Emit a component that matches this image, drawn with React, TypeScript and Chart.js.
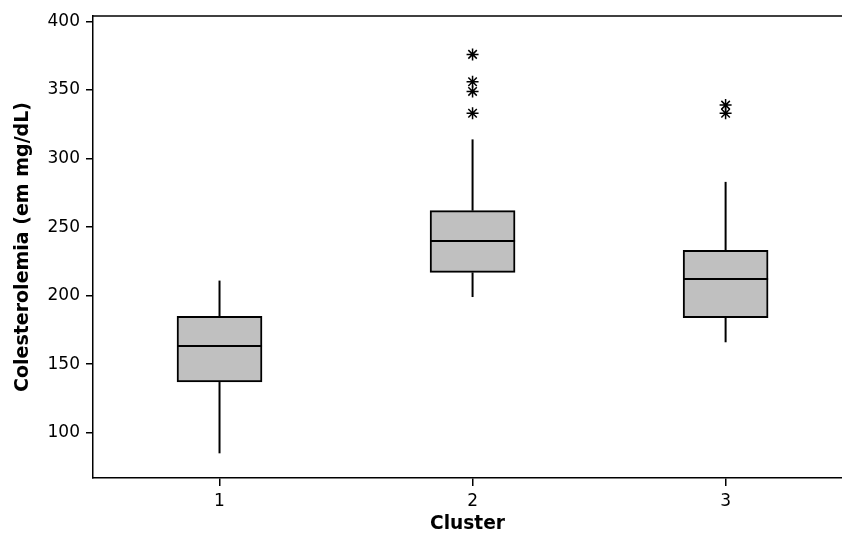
import React, { useEffect, useRef } from 'react';
import { Chart, registerables } from 'chart.js';

Chart.register(...registerables);

// ---- data ----
const clusters = [1, 2, 3];
const whiskerLow = [85, 199, 166];
const q1 = [137, 217, 184];
const median = [163, 240, 212];
const q3 = [185, 262, 233];
const whiskerHigh = [211, 314, 283];
const outliers2 = [376, 356, 349, 333];
const outliers3 = [339, 333];
const yTicks = [100, 150, 200, 250, 300, 350, 400];
const xTicks = [1, 2, 3];

const FONT = "'DejaVu Sans', Verdana, sans-serif";

const boxExtras = {
  id: 'boxExtras',
  afterDatasetsDraw(chart: any) {
    const meta = chart.getDatasetMeta(0);
    const ys = chart.scales.y;
    const ctx = chart.ctx;
    ctx.save();
    ctx.strokeStyle = '#000';
    ctx.lineWidth = 2;
    meta.data.forEach((el: any, i: number) => {
      const { x, width } = el.getProps(['x', 'width'], true);
      const py = Math.round(ys.getPixelForValue(median[i]));
      ctx.beginPath();
      ctx.moveTo(x - width / 2, py);
      ctx.lineTo(x + width / 2, py);
      ctx.stroke();
    });
    const a = chart.chartArea;
    ctx.lineWidth = 1.5;
    ctx.beginPath();
    ctx.moveTo(a.left, a.top);
    ctx.lineTo(a.right, a.top);
    ctx.stroke();
    ctx.restore();
  },
};

export default function App() {
  const ref = useRef<HTMLCanvasElement | null>(null);

  useEffect(() => {
    if (!ref.current) return;
    const whiskerSets: any[] = [];
    clusters.forEach((c, i) => {
      whiskerSets.push({
        type: 'line',
        data: [{ x: c, y: q3[i] }, { x: c, y: whiskerHigh[i] }],
        borderColor: '#000',
        borderWidth: 2,
        pointRadius: 0,
        order: 2,
      });
      whiskerSets.push({
        type: 'line',
        data: [{ x: c, y: whiskerLow[i] }, { x: c, y: q1[i] }],
        borderColor: '#000',
        borderWidth: 2,
        pointRadius: 0,
        order: 2,
      });
    });

    const outlierData = [
      ...outliers2.map((v) => ({ x: clusters[1], y: v })),
      ...outliers3.map((v) => ({ x: clusters[2], y: v })),
    ];

    const chart = new Chart(ref.current, {
      type: 'bar',
      data: {
        datasets: [
          {
            type: 'bar',
            data: clusters.map((c, i) => ({ x: c, y: [q1[i], q3[i]] })) as any,
            backgroundColor: '#C0C0C0',
            borderColor: '#000',
            borderWidth: 2,
            borderSkipped: false,
            barThickness: 85,
            order: 1,
          } as any,
          ...whiskerSets,
          {
            type: 'scatter',
            data: outlierData,
            pointStyle: 'star',
            pointRadius: 6,
            borderColor: '#000',
            borderWidth: 1.5,
            order: 0,
          } as any,
        ],
      },
      options: {
        animation: false,
        responsive: true,
        maintainAspectRatio: false,
        layout: { autoPadding: false, padding: { top: 16, right: 0, left: 0, bottom: 0 } },
        plugins: {
          legend: { display: false },
          tooltip: { enabled: false },
        },
        scales: {
          x: {
            type: 'linear',
            min: 0.5,
            max: 3.46,
            offset: false,
            afterBuildTicks: (s: any) => {
              s.ticks = xTicks.map((v) => ({ value: v }));
            },
            afterFit: (s: any) => {
              s.height = 60;
              s.paddingLeft = 0;
              s.paddingRight = 0;
            },
            grid: {
              offset: false,
              drawOnChartArea: false,
              drawTicks: true,
              tickLength: 8,
              color: '#000',
              lineWidth: 1.5,
            },
            border: { display: true, color: '#000', width: 1.5 },
            ticks: {
              color: '#000',
              padding: 5,
              font: { family: FONT, size: 17 },
              callback: (v: any) => String(v),
            },
            title: {
              display: true,
              text: 'Cluster',
              color: '#000',
              padding: { top: 0, bottom: 3 },
              font: { family: FONT, size: 18.6, weight: 'bold' },
            },
          },
          y: {
            type: 'linear',
            min: 67,
            max: 404,
            beginAtZero: false,
            afterBuildTicks: (s: any) => {
              s.ticks = yTicks.map((v) => ({ value: v }));
            },
            afterFit: (s: any) => {
              s.width = 93;
              s.paddingTop = 0;
              s.paddingBottom = 0;
            },
            grid: {
              drawOnChartArea: false,
              drawTicks: true,
              tickLength: 7,
              color: '#000',
              lineWidth: 1.5,
            },
            border: { display: true, color: '#000', width: 1.5 },
            ticks: {
              color: '#000',
              padding: 6,
              font: { family: FONT, size: 17 },
            },
            title: {
              display: true,
              text: 'Colesterolemia (em mg/dL)',
              color: '#000',
              padding: { top: 12, bottom: 0 },
              font: { family: FONT, size: 19, weight: 'bold' },
            },
          },
        },
      } as any,
      plugins: [boxExtras],
    });
    return () => chart.destroy();
  }, []);

  return (
    <div style={{ position: 'absolute', left: 0, top: 0, width: 842, height: 538, background: '#fff' }}>
      <canvas ref={ref} />
    </div>
  );
}
